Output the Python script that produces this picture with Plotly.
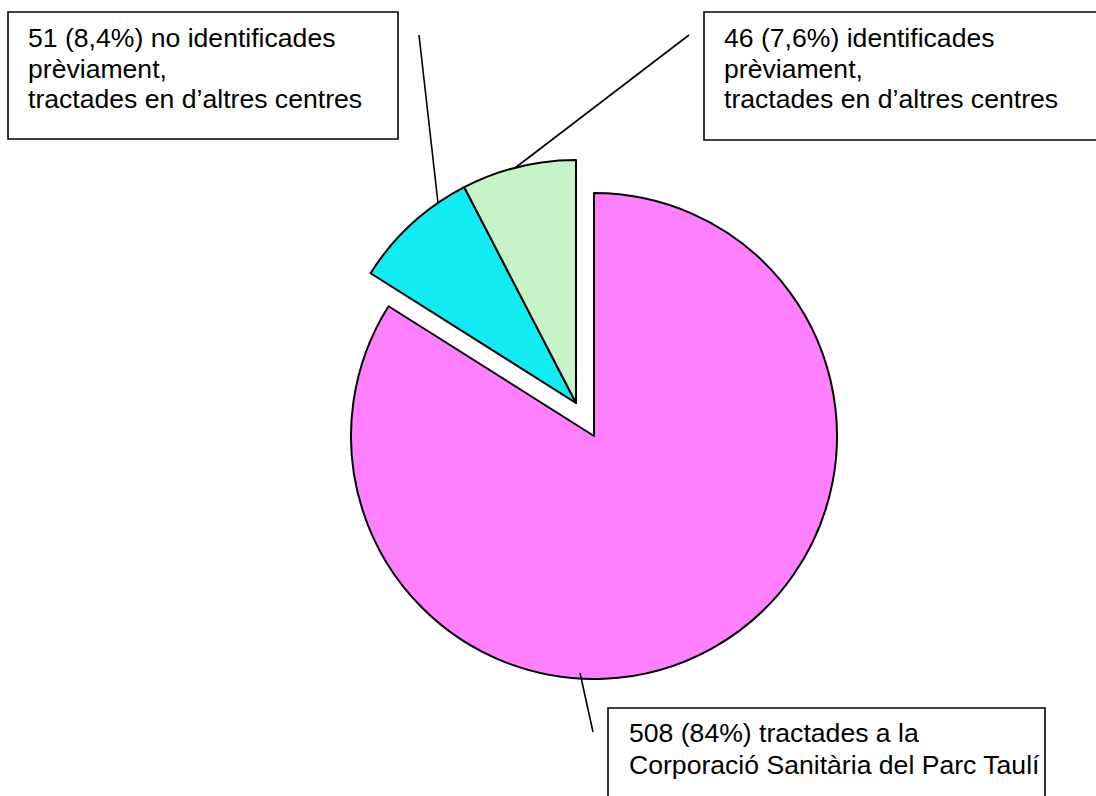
import plotly.graph_objects as go

# ---- data ----
categories = [
    "tractades a la Corporació Sanitària del Parc Taulí",
    "no identificades prèviament, tractades en d'altres centres",
    "identificades prèviament, tractades en d'altres centres",
]
values = [508, 51, 46]
colors = ["#FF80FF", "#10ECF2", "#C6F4C6"]

label_lines = [
    ["508 (84%) tractades a la", "Corporació Sanitària del Parc Taulí"],
    ["51 (8,4%) no identificades", "prèviament,", "tractades en d\u2019altres centres"],
    ["46 (7,6%) identificades", "prèviament,", "tractades en d\u2019altres centres"],
]

W, H = 1096, 796
FONT = "Liberation Sans, Arial, sans-serif"


def px(x):
    return x / W


def py(y):
    return 1 - y / H


def dom(cx, cy, r):
    return dict(x=[px(cx - r), px(cx + r)], y=[py(cy + r), py(cy - r)])


R = 243
transparent = "rgba(0,0,0,0)"

fig = go.Figure()
# main (pink) slice
fig.add_trace(go.Pie(
    labels=categories, values=values, sort=False, direction="clockwise", rotation=0,
    marker=dict(colors=[colors[0], transparent, transparent],
                line=dict(color=["black", transparent, transparent], width=2)),
    textinfo="none", hoverinfo="skip", showlegend=False,
    domain=dom(594, 436, R),
))
# detached group (cyan + green)
fig.add_trace(go.Pie(
    labels=categories, values=values, sort=False, direction="clockwise", rotation=0,
    marker=dict(colors=[transparent, colors[1], colors[2]],
                line=dict(color=[transparent, "black", "black"], width=2)),
    textinfo="none", hoverinfo="skip", showlegend=False,
    domain=dom(576, 403, R),
))

shapes = []
# label boxes
boxes = [(608, 708, 1045, 830), (8, 12, 398, 139), (704, 12, 1110, 140)]
for (x0, y0, x1, y1) in boxes:
    shapes.append(dict(type="rect", xref="paper", yref="paper", layer="below",
                       x0=px(x0), x1=px(x1), y0=py(y1), y1=py(y0),
                       line=dict(color="black", width=1.6), fillcolor="white"))
# leader lines
leaders = [(580, 673, 593, 732), (419, 35, 438, 203), (689, 35, 515, 168)]
for (x0, y0, x1, y1) in leaders:
    shapes.append(dict(type="line", xref="paper", yref="paper",
                       x0=px(x0), y0=py(y0), x1=px(x1), y1=py(y1),
                       line=dict(color="black", width=1.6)))

annotations = []
text_pos = [(627, [733, 765]), (26, [38, 69, 99]), (722, [38, 69, 99])]
for lines, (tx, ys) in zip(label_lines, text_pos):
    for line, ty in zip(lines, ys):
        annotations.append(dict(text=line, xref="paper", yref="paper",
                                x=px(tx), y=py(ty), xanchor="left", yanchor="middle",
                                showarrow=False, align="left",
                                font=dict(family=FONT, size=26.6, color="black")))

fig.update_layout(
    width=W, height=H, margin=dict(l=0, r=0, t=0, b=0),
    paper_bgcolor="white", plot_bgcolor="white",
    shapes=shapes, annotations=annotations, showlegend=False,
)

fig.write_html("out.html")
